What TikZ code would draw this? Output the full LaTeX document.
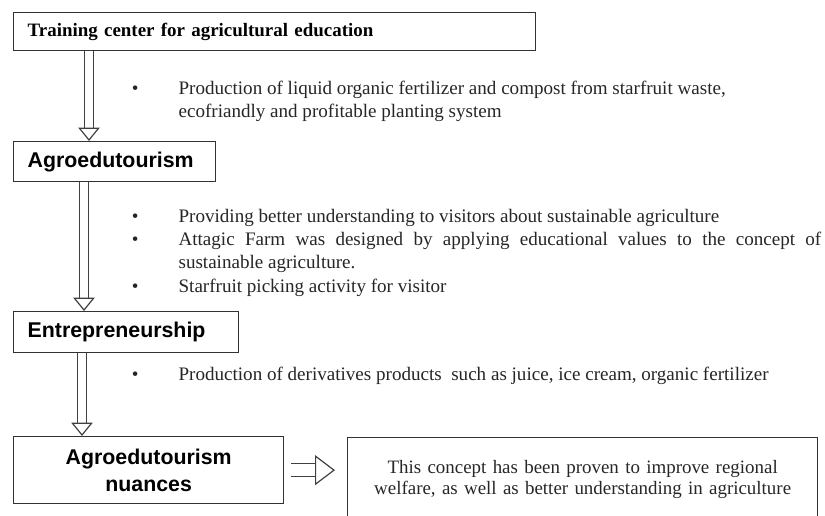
\documentclass[tikz,border=0pt]{standalone}
\usepackage{fontspec, enumitem, tikz}
\setmainfont{Liberation Serif}
\setsansfont{Liberation Sans}
\usetikzlibrary{calc,arrows.meta,positioning}

\begin{document}
\begin{tikzpicture}[x=0.75pt, y=-0.75pt,
    stage/.style={draw=black!80, line width=1pt, anchor=north west, inner xsep=10.5pt, inner ysep=0pt, align=left, font=\sffamily\bfseries\fontsize{16}{18}\selectfont},
    notes/.style={anchor=base west, inner sep=0pt, text width=#1, align=justify, font=\fontsize{14.3}{17.5}\selectfont, text=black!85},
    down/.style={draw=black!75, double, double distance=5.5pt, line width=0.9pt, -{Triangle[open, length=10pt, width=16pt]}},
    across/.style={draw=black!75, double, double distance=9pt, line width=0.9pt, -{Triangle[open, length=15pt, width=22.5pt]}}]
    \useasboundingbox (0,0) rectangle (825,516);
    \node[stage, font=\bfseries\fontsize{14.2}{16}\selectfont, text width=370.5pt, minimum height=28.5pt] (training) at (13,12) {Training center for agricultural education};
    \node[stage, text width=130.5pt, minimum height=30pt] (agro) at (13,141) {Agroedutourism};
    \node[stage, text width=147.75pt, minimum height=30.75pt] (entre) at (13,311) {Entrepreneurship};
    \node[stage, text width=181.5pt, minimum height=50.25pt, align=center, font=\sffamily\bfseries\fontsize{16}{20}\selectfont] (nuance) at (13,436) {Agroedutourism\\nuances};
    \node[stage, text width=331.5pt, minimum height=62.25pt, align=center, font=\fontsize{14.2}{16}\selectfont, text=black!85] (result) at (347,437) {This concept has been proven to improve regional\\welfare, as well as better understanding in agriculture};

    \node[notes=516pt] (list1) at (133,71) {\begin{itemize}[label=\textbullet, leftmargin=34pt, labelsep=30pt, itemsep=0pt, topsep=0pt, parsep=0pt, partopsep=0pt]
        \item Production of liquid organic fertilizer and compost from starfruit waste,\newline ecofriandly and profitable planting system
    \end{itemize}};
    \node[notes=516pt] (list2) at (133,199) {\begin{itemize}[label=\textbullet, leftmargin=34pt, labelsep=30pt, itemsep=0pt, topsep=0pt, parsep=0pt, partopsep=0pt]
        \item Providing better understanding to visitors about sustainable agriculture
        \item Attagic Farm was designed by applying educational values to the concept of\linebreak sustainable agriculture.
        \item Starfruit picking activity for visitor
    \end{itemize}};
    \node[notes=516pt] (list3) at (133,357) {\begin{itemize}[label=\textbullet, leftmargin=34pt, labelsep=30pt, itemsep=0pt, topsep=0pt, parsep=0pt, partopsep=0pt]
        \item Production of derivatives products \ such as juice, ice cream, organic fertilizer
    \end{itemize}};

    \coordinate (col1) at (89,0);
    \coordinate (col2) at (84,0);
    \coordinate (col3) at (82,0);
    \draw[down] (training.south -| col1) -- (agro.north -| col1);
    \draw[down] (agro.south -| col2) -- (entre.north -| col2);
    \draw[down] (entre.south -| col3) -- (nuance.north -| col3);
    \draw[across, shorten <=5pt, shorten >=9pt] (nuance.east) -- (nuance.east -| result.west);
\end{tikzpicture}
\end{document}
